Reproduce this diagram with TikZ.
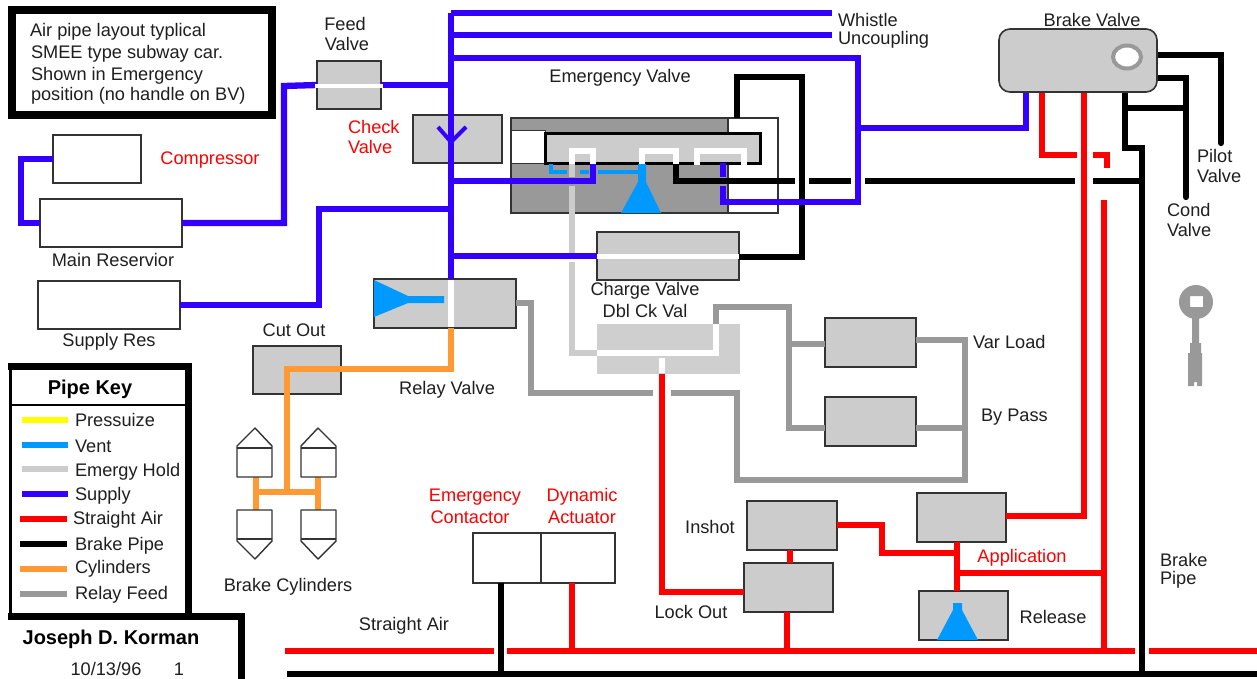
\documentclass[tikz,border=0pt]{standalone}
\usepackage{fontspec}
\usetikzlibrary{shapes.geometric}
\setmainfont{Liberation Sans}
\definecolor{cSupply}{HTML}{3300FF}
\definecolor{cVent}{HTML}{0099FF}
\definecolor{cHold}{HTML}{CCCCCC}
\definecolor{cAir}{HTML}{FF0000}
\definecolor{cCyl}{HTML}{FF9933}
\definecolor{cFeed}{HTML}{999999}
\definecolor{cKeyY}{HTML}{FFFF00}
\definecolor{cEdge}{HTML}{333333}
\tikzset{
 x=1pt,y=-1pt,
 every node/.style={inner sep=0pt,outer sep=0pt},
 pipe/.style={line width=6.3pt,line cap=butt,line join=miter},
 supply/.style={pipe,draw=cSupply},
 vent/.style={pipe,draw=cVent,line width=4.5pt},
 hold/.style={pipe,draw=cHold},
 air/.style={pipe,draw=cAir},
 brake/.style={pipe,draw=black},
 cyl/.style={pipe,draw=cCyl},
 feedp/.style={pipe,draw=cFeed},
 whitep/.style={pipe,draw=white},
 valve/.style={rectangle,draw=cEdge,line width=1.6pt,fill=cHold},
 resv/.style={rectangle,draw=cEdge,line width=1.4pt,fill=white},
 txt/.style={font=\fontsize{18.2}{20}\selectfont,text=black!88},
 rtxt/.style={txt,text=cAir},
 btxt/.style={font=\fontsize{20}{22}\selectfont\bfseries,text=black},
 swatch/.style={pipe},
 frame/.style={line width=7pt,draw=black,line join=miter},
 cylshape/.style={draw=cEdge,line width=1.4pt,fill=white,line join=round},
}
\newcommand{\bx}[6]{\node[#1,minimum width=#4-#3,minimum height=#6-#5] (#2) at ({(#3+#4)/2},{(#5+#6)/2}) {};}
\begin{document}
\begin{tikzpicture}
\useasboundingbox (0,0) rectangle (1257,679);
\fill[white] (0,0) rectangle (1257,679);

% frames
\node[rectangle,draw=black,line width=8pt,fill=white,minimum width=260pt,minimum height=105pt] (note) at (142,63) {};
\node[txt,anchor=west] (n1) at (30,32) {Air pipe layout typlical};
\node[txt,anchor=west] (n2) at (31,54) {SMEE type subway car.};
\node[txt,anchor=west] (n3) at (31,76) {Shown in Emergency};
\node[txt,anchor=west] (n4) at (31,96) {position (no handle on BV)};

% boxes
\bx{valve}{feed}{317}{381}{61}{109}
\bx{resv}{comp}{53}{141}{135}{183}
\bx{resv}{mainres}{40}{182}{199}{247}
\bx{resv}{supres}{38}{180}{281}{329}
\bx{valve}{check}{413}{502}{115}{163}
\bx{valve}{charge}{597}{739}{232}{280}
\bx{valve}{relay}{374}{516}{279}{328}
\bx{valve}{cutout}{253}{341}{346}{394}
\bx{valve}{varload}{825}{916}{318}{367}
\bx{valve}{bypass}{825}{916}{397}{446}
\bx{valve}{inshot}{747}{837}{501}{550}
\bx{valve}{lockout}{744}{833}{563}{612}
\bx{valve}{appl}{917}{1006}{493}{542}
\bx{valve}{release}{919}{1008}{591}{640}
\bx{resv}{emcon}{473}{541}{533}{583}
\bx{resv}{dynact}{541}{615}{533}{583}
\node[rectangle,fill=cHold!95!white,minimum width=143pt,minimum height=50pt] (dbl) at (668.5,348.5) {};

% emergency valve body
\bx{resv}{ev}{511}{778}{118}{213}
\fill[cFeed] (ev.north west) rectangle (728,213);
\draw[cEdge,line width=1.4pt] (ev.north west) rectangle (ev.south east);
\draw[cEdge,line width=1.2pt] (728,118) -- (728,213);
\node[rectangle,fill=white,draw=cEdge,line width=1pt,minimum width=34pt,minimum height=33pt] (notch) at (528,147.5) {};
\node[rectangle,fill=cHold,draw=black,line width=3.5pt,minimum width=215pt,minimum height=30pt] (piston) at (653,148.5) {};

% coordinates
\coordinate (sTop) at (451,13);
\coordinate (wEnd) at (832,13);
\coordinate (uL) at (451,35);
\coordinate (uEnd) at (832,35);
\coordinate (lT) at (451,58);
\coordinate (lR) at (858,58);
\coordinate (lB) at (858,202);
\coordinate (lL) at (723,202);
\coordinate (lE1) at (723,186);
\coordinate (lE2) at (723,177);
\coordinate (lE3) at (723,163);
\coordinate (bvJ) at (858,128);
\coordinate (bvB) at (1026,128);
\coordinate (mrB) at (284,86);
\coordinate (cpL) at (21,159);
\coordinate (srB) at (319,209);
\coordinate (sA) at (451,181);
\coordinate (sB) at (593,181);
\coordinate (sC) at (593,163);

% hold
\coordinate (h1) at (572,163); \coordinate (h2) at (572,177);
\coordinate (h3) at (572,186); \coordinate (h4) at (572,253);
\coordinate (h5) at (572,262); \coordinate (h6) at (572,353);
\coordinate (h7) at (597,353);
\draw[hold] (h1) -- (h2);
\draw[hold] (h3) -- (h4);
\draw[hold] (h5) -- (h6) -- (h7);

% vent in emergency valve
\coordinate (v1) at (551,164); \coordinate (v2) at (551,172); \coordinate (v3) at (567,172);
\coordinate (v4) at (580,172); \coordinate (v5) at (589,172);
\coordinate (v6) at (598,172); \coordinate (v7) at (640,172);
\draw[vent] (v1) -- (v2) -- (v3);
\draw[vent] (v4) -- (v5);
\draw[vent] (v6) -- (v7);
\fill[cVent] (638,164) -- (646,164) -- (646,182) -- (661,213) -- (621,213) -- (638,182) -- cycle;

% cylinders pipe
\coordinate (cA) at (451,369);
\coordinate (cB) at (287,369);
\coordinate (cC) at (287,492);
\coordinate (cL) at (256,492);
\coordinate (cR) at (318,492);
\coordinate (cLt) at (256,477);
\coordinate (cLb) at (256,510);
\coordinate (cRt) at (318,477);
\coordinate (cRb) at (318,510);
\draw[cyl] (451,328) -- (cA) -- (cB) -- (cC);
\draw[cyl] (cL) -- (cR);
\draw[cyl] (cLt) -- (cLb);
\draw[cyl] (cRt) -- (cRb);

% brake cylinders
\draw[cylshape] (237,477) -- (237,446) -- (255,428) -- (272,446) -- (272,477) -- cycle;
\draw[cylshape] (237,448) -- (272,448);
\draw[cylshape] (301,477) -- (301,446) -- (318,428) -- (336,446) -- (336,477) -- cycle;
\draw[cylshape] (301,448) -- (336,448);
\draw[cylshape] (237,510) -- (237,541) -- (255,559) -- (272,541) -- (272,510) -- cycle;
\draw[cylshape] (237,539) -- (272,539);
\draw[cylshape] (301,510) -- (301,541) -- (318,559) -- (336,541) -- (336,510) -- cycle;
\draw[cylshape] (301,539) -- (336,539);

% relay feed
\coordinate (f1) at (531,303); \coordinate (f2) at (531,393); \coordinate (f3) at (653,393);
\coordinate (f4) at (671,393); \coordinate (f5) at (737,393); \coordinate (f6) at (737,480);
\coordinate (f7) at (965,480); \coordinate (f8) at (965,340);
\coordinate (g1) at (716,324); \coordinate (g2) at (716,307); \coordinate (g3) at (789,307);
\coordinate (g4) at (789,428); \coordinate (g5) at (789,344);
\draw[feedp] (relay.east |- f1) -- (f1) -- (f2) -- (f3);
\draw[feedp] (f4) -- (f5) -- (f6) -- (f7) -- (f8) -- (f8 -| varload.east);
\draw[feedp] (f8 |- g4) -- (g4 -| bypass.east);
\draw[feedp] (g1) -- (g2) -- (g3) -- (g4) -- (g4 -| bypass.west);
\draw[feedp] (g5) -- (g5 -| varload.west);
\draw[whitep] (h7) -- (g1 |- h7) -- (g1);
\coordinate (d1) at (662,358); \coordinate (d2) at (662,373);
\draw[whitep] (d1) -- (d2);

% brake pipe
\coordinate (b0) at (676,163); \coordinate (b1) at (676,181); \coordinate (b2) at (795,181);
\coordinate (b3) at (809,181); \coordinate (b4) at (851,181);
\coordinate (b5) at (865,181); \coordinate (b6) at (1075,181);
\coordinate (b7) at (1093,181);
\coordinate (bPipe) at (1142,148);
\coordinate (bBot) at (1142,674);
\coordinate (bBotL) at (287,674);
\coordinate (bBotR) at (1257,674);
\coordinate (k1) at (802,257); \coordinate (k2) at (802,77); \coordinate (k3) at (737,77);
\coordinate (k4) at (737,118);
\coordinate (p1) at (1221,55); \coordinate (p2) at (1221,143);
\coordinate (q1) at (1186,78); \coordinate (q2) at (1186,197);
\coordinate (q3) at (1125,108); \coordinate (q4) at (1125,148);
\coordinate (q5) at (1125,92);
\coordinate (e1) at (501,583); \coordinate (e2) at (501,674);
\draw[brake] (charge.east |- k1) -- (k1) -- (k2) -- (k3) -- (k4);
\draw[brake] (b0) -- (b1) -- (b2);
\draw[brake] (b3) -- (b4);
\draw[brake] (b5) -- (b6);
\draw[brake] (b7) -- (b7 -| bPipe);
\draw[brake] (q5) -- (q4) -- (bPipe) -- (bBot);
\draw[brake] (q3) -- (q3 -| q1);
\coordinate (p0) at (1157,55); \coordinate (q0) at (1157,78);
\draw[brake,line cap=round] (p0) -- (p1) -- (p2);
\draw[brake,line cap=round] (q0) -- (q1) -- (q2);
\draw[brake] (bBotL) -- (bBotR);
\draw[brake] (e1) -- (e2);

% supply
\coordinate (bvT) at (1026,92);
\draw[supply] (sTop) -- (wEnd);
\draw[supply] (uL) -- (uEnd);
\draw[supply] (lT) -- (lR) -- (lB) -- (lL) -- (lE1);
\draw[supply] (lE2) -- (lE3);
\draw[supply] (bvJ) -- (bvB) -- (bvT);
\draw[supply] (sTop) -- (sTop |- relay.north);
\draw[supply] (feed.east) -- (feed.east -| sTop);
\draw[supply] (mainres.east) -| (mrB) -- (feed.west);
\draw[supply] (comp.west) -- (cpL) |- (mainres.west);
\draw[supply] (supres.east) -| (srB) -- (srB -| sTop);
\draw[supply] (sA) -- (sB) -- (sC);
\draw[supply] (charge.west) -- (charge.west -| sTop);
\draw[cSupply,line width=4pt,line join=miter] (438,127) -- (451,142) -- (466,127);

% white passages
\draw[whitep] (572,164) -- (572,151) -- (593,151) -- (593,164);
\draw[whitep] (642,164) -- (642,151) -- (676,151) -- (676,164);
\draw[whitep] (697,165) -- (697,151) -- (744,151) -- (744,165);
\draw[white,line width=4pt] (315,86) -- (383,86);
\draw[white,line width=5pt] (charge.west) -- (charge.east);
\draw[white,line width=6pt] (451,280) -- (451,327);

% relay vent
\fill[cVent] (374,280) -- (408,296) -- (444,296) -- (444,303) -- (408,303) -- (374,317) -- cycle;

% straight air
\coordinate (a1) at (662,384); \coordinate (a2) at (662,592);
\coordinate (a3) at (285,651); \coordinate (a4) at (494,651); \coordinate (a5) at (507,651);
\coordinate (a6) at (1135,651); \coordinate (a7) at (1149,651); \coordinate (a8) at (1257,651);
\coordinate (a9) at (1084,516); \coordinate (a10) at (1042,155); \coordinate (a11) at (1077,155);
\coordinate (a12) at (1093,155); \coordinate (a13) at (1107,155); \coordinate (a14) at (1107,168);
\coordinate (a15) at (1104,200);
\coordinate (a16) at (882,525); \coordinate (a17) at (882,553); \coordinate (a18) at (957,553);
\coordinate (a19) at (957,573);
\coordinate (a20) at (572,583); \coordinate (a21) at (572,651);
\coordinate (a22) at (790,550); \coordinate (a23) at (790,563);
\coordinate (a24) at (787,612); \coordinate (a25) at (787,651);
\coordinate (a26) at (1084,92); \coordinate (a27) at (1042,92);
\coordinate (a28) at (1104,651);
\coordinate (a29) at (957,542); \coordinate (a30) at (957,591);
\draw[air] (a1 |- dbl.south) -- (a2) -- (a2 -| lockout.west);
\draw[air] (a3) -- (a4);
\draw[air] (a5) -- (a6);
\draw[air] (a7) -- (a8);
\draw[air] (a20) -- (a21);
\draw[air] (a22) -- (a23);
\draw[air] (a24) -- (a25);
\draw[air] (a9 -| appl.east) -- (a9) -- (a26);
\draw[air] (a27) -- (a10) -- (a11);
\draw[air] (a12) -- (a13) -- (a14);
\draw[air] (a15) -- (a28);
\draw[air] (a19) -- (a15 |- a19);
\draw[air] (inshot.east |- a16) -- (a16) -- (a17) -- (a18);
\draw[air] (a29) -- (a30);
\fill[cVent] (953,603) -- (962,603) -- (962,610) -- (978,640) -- (937,640) -- (953,610) -- cycle;

% brake valve
\node[rectangle,rounded corners=11pt,draw=cEdge,line width=1.6pt,fill=cHold,minimum width=158pt,minimum height=63pt] (bv) at (1078,60.5) {};
\node[ellipse,draw=cFeed,line width=4pt,fill=white,minimum width=28pt,minimum height=23pt] (hole) at (1127,57) {};

% key
\path[fill=cFeed,even odd rule]
  (1196,302) circle[radius=17pt]
  (1190,296) rectangle (1203,307);
\fill[cFeed] (1192,315) -- (1199,315) -- (1199,343) -- (1201,343) -- (1201,353) -- (1202,353) -- (1202,386) -- (1197,386) -- (1197,382) -- (1194,382) -- (1194,386) -- (1188,386) -- (1188,353) -- (1190,353) -- (1190,343) -- (1192,343) -- cycle;

% labels
\node[txt] (tFeed1) at (345,24) {Feed};
\node[txt] (tFeed2) at (347,44) {Valve};
\node[txt,anchor=west] (tWh) at (838,20) {Whistle};
\node[txt,anchor=west] (tUn) at (838,40) {Uncoupling};
\node[txt] (tEV) at (620,78) {Emergency Valve};
\node[rtxt,anchor=west] (tCk1) at (348,127) {Check};
\node[rtxt,anchor=west] (tCk2) at (348,147) {Valve};
\node[rtxt] (tCp) at (210,160) {Compressor};
\node[txt] (tMR) at (113,260) {Main Reservior};
\node[txt] (tSR) at (109,342) {Supply Res};
\node[txt] (tCO) at (294,330) {Cut Out};
\node[txt] (tRV) at (447,390) {Relay Valve};
\node[txt] (tCV) at (645,291) {Charge Valve};
\node[txt] (tDC) at (645,311) {Dbl Ck Val};
\node[txt,anchor=west] (tVL) at (973,342) {Var Load};
\node[txt,anchor=west] (tBP) at (981,417) {By Pass};
\node[txt] (tBV) at (1092,20) {Brake Valve};
\node[txt,anchor=west] (tPV1) at (1197,156) {Pilot};
\node[txt,anchor=west] (tPV2) at (1197,176) {Valve};
\node[txt,anchor=west] (tCd1) at (1167,210) {Cond};
\node[txt,anchor=west] (tCd2) at (1167,230) {Valve};
\node[txt,anchor=west] (tBk1) at (1160,560) {Brake};
\node[txt,anchor=west] (tBk2) at (1160,580) {Pipe};
\node[txt] (tBC) at (288,587) {Brake Cylinders};
\node[txt] (tSA) at (404,626) {Straight Air};
\node[rtxt] (tEm1) at (475,497) {Emergency};
\node[rtxt] (tEm2) at (470,517) {Contactor};
\node[rtxt] (tDy1) at (582,497) {Dynamic};
\node[rtxt] (tDy2) at (582,517) {Actuator};
\node[txt] (tIn) at (710,527) {Inshot};
\node[txt] (tLO) at (691,612) {Lock Out};
\node[rtxt] (tAp) at (1022,558) {Application};
\node[txt] (tRe) at (1053,617) {Release};

% pipe key
\fill[white] (8,363) rectangle (192,620);
\draw[line width=3pt,black] (10,620) -- (10,366);
\draw[frame] (8,366.5) -- (188.5,366.5) -- (188.5,617);
\draw[frame] (8,616.5) -- (241.5,616.5) -- (241.5,679);
\draw[black,line width=2pt] (11,405) -- (185,405);
\node[btxt] (tKey) at (90,389) {Pipe Key};
\draw[swatch,draw=cKeyY] (22,420) -- (68,420);
\draw[swatch,draw=cVent] (22,445) -- (68,445);
\draw[swatch,draw=cHold] (22,469) -- (68,469);
\draw[swatch,draw=cSupply] (22,494) -- (68,494);
\draw[swatch,draw=cAir] (20,519) -- (67,519);
\draw[swatch,draw=black] (20,544) -- (67,544);
\draw[swatch,draw=cCyl] (20,569) -- (67,569);
\draw[swatch,draw=cFeed] (20,594) -- (67,594);
\node[txt,anchor=west] (k1t) at (75,420) {Pressuize};
\node[txt,anchor=west] (k2t) at (75,446) {Vent};
\node[txt,anchor=west] (k3t) at (75,472) {Emergy Hold};
\node[txt,anchor=west] (k4t) at (75,496) {Supply};
\node[txt,anchor=west] (k5t) at (73,520) {Straight Air};
\node[txt,anchor=west] (k6t) at (75,546) {Brake Pipe};
\node[txt,anchor=west] (k7t) at (75,569) {Cylinders};
\node[txt,anchor=west] (k8t) at (75,595) {Relay Feed};
\node[btxt] (tJK) at (111,639) {Joseph D. Korman};
\node[txt] (tDt) at (106,669) {10/13/96};
\node[txt] (tNo) at (179,669) {1};
\end{tikzpicture}
\end{document}
